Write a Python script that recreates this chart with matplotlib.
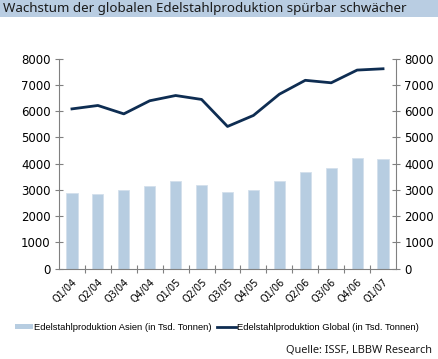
import matplotlib.pyplot as plt
from matplotlib.patches import Rectangle
from matplotlib.lines import Line2D

quarters = ["Q1/04", "Q2/04", "Q3/04", "Q4/04", "Q1/05", "Q2/05", "Q3/05",
            "Q4/05", "Q1/06", "Q2/06", "Q3/06", "Q4/06", "Q1/07"]
asien = [2885, 2850, 3000, 3150, 3330, 3200, 2910, 3000, 3330, 3690, 3830, 4210, 4185]
glob = [6090, 6220, 5900, 6400, 6600, 6450, 5420, 5840, 6650, 7180, 7085, 7570, 7620]

bar_col = "#b7cde1"
line_col = "#0e2d52"
grey = "#808080"

fig = plt.figure(figsize=(4.38, 3.59), dpi=100)

# title band
fig.patches.append(Rectangle((0, 1 - 17 / 359), 1, 17 / 359, transform=fig.transFigure,
                             facecolor="#b9cde2", edgecolor="none"))
fig.text(3 / 438, 1 - 8.5 / 359, "Wachstum der globalen Edelstahlproduktion spürbar schwächer",
         fontsize=9.6, family="Noto Sans", va="center", ha="left", color="#1a1a1a")

ax = fig.add_axes([59 / 438, 1 - 268.6 / 359, (396 - 59) / 438, (268.6 - 58.8) / 359])
x = range(len(quarters))
ax.bar(x, asien, width=0.43, color=bar_col, edgecolor="#d3e0ec", linewidth=0.6)
ax2 = ax.twinx()
ax2.plot(x, glob, color=line_col, linewidth=2)

for a in (ax, ax2):
    a.set_ylim(0, 8000)
    a.set_xlim(-0.5, 12.5)
    a.set_yticks(range(0, 8001, 1000))
    for s in a.spines.values():
        s.set_visible(False)
    a.tick_params(axis="y", length=6, direction="inout", color=grey, labelsize=8.5,
                  width=0.8, pad=3)
ax.spines["left"].set_visible(True)
ax.spines["left"].set_color(grey)
ax.spines["bottom"].set_visible(True)
ax.spines["bottom"].set_color(grey)
ax2.spines["right"].set_visible(True)
ax2.spines["right"].set_color(grey)

ax.set_xticks([i + 0.5 for i in range(12)])
ax.set_xticklabels([])
ax.tick_params(axis="x", length=6, direction="inout", color=grey, width=0.8)
ax.set_xticks(list(x), minor=True)
ax.set_xticklabels(quarters, minor=True, rotation=45, ha="right", fontsize=7,
                   rotation_mode="anchor")
ax.tick_params(axis="x", which="minor", length=0, pad=6)

handles = [Rectangle((0, 0), 1, 1, facecolor=bar_col, edgecolor="none"),
           Line2D([0], [0], color=line_col, linewidth=2)]
fig.legend(handles, ["Edelstahlproduktion Asien (in Tsd. Tonnen)",
                     "Edelstahlproduktion Global (in Tsd. Tonnen)"],
           loc="center", bbox_to_anchor=(0.495, 1 - 327 / 359), ncol=2, frameon=False,
           prop={"family": "Liberation Sans", "size": 6.75}, handlelength=2.0,
           handleheight=0.5, handletextpad=0.1, columnspacing=0.6)

fig.text(432 / 438, 1 - 350 / 359, "Quelle: ISSF, LBBW Research", fontsize=7.9,
         family="Noto Sans", ha="right", va="center", color="#1a1a1a")

fig.savefig("out.png", dpi=100)
